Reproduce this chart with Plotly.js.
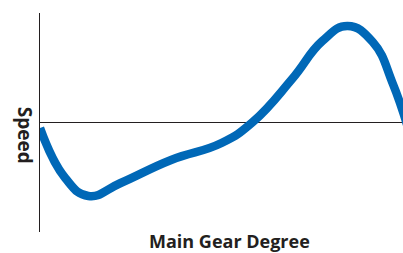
<!DOCTYPE html>
<html>
<head>
<meta charset="utf-8">
<script src="https://cdn.plot.ly/plotly-3.0.1.min.js"></script>
<style>html,body{margin:0;padding:0;background:#fff;}#chart{width:403px;height:253px;}</style>
</head>
<body>
<div id="chart"></div>
<script>
const degree = [0, 25, 48, 80, 130, 180, 211, 250, 280, 305, 330, 350, 367];
const speed = [-0.06, -0.56, -0.74, -0.61, -0.38, -0.21, 0.0, 0.43, 0.81, 0.96, 0.80, 0.38, -0.13];
const xTitle = "Main Gear Degree";
const yTitle = "Speed";

const trace = {
  x: degree, y: speed, type: 'scatter', mode: 'lines',
  line: {color: '#0068b7', width: 8.5, shape: 'spline', smoothing: 1.3},
  hoverinfo: 'skip'
};
const font = {family: 'Open Sans, Lato, sans-serif', size: 18, color: '#231f20'};
const layout = {
  width: 403, height: 253,
  margin: {l: 40, r: 0, t: 13, b: 21, pad: 0},
  paper_bgcolor: '#fff', plot_bgcolor: '#fff',
  showlegend: false,
  xaxis: {range: [0, 360], showgrid: false, zeroline: false, showline: false, showticklabels: false, ticks: '', fixedrange: true},
  yaxis: {range: [-1.10, 1.09], showgrid: false, zeroline: true, zerolinecolor: '#231f20', zerolinewidth: 1,
          showline: true, linecolor: '#231f20', linewidth: 1, showticklabels: false, ticks: '', fixedrange: true},
  annotations: [
    {text: '<b>' + xTitle + '</b>', xref: 'paper', yref: 'paper', x: 0.521, y: -0.043, xanchor: 'center', yanchor: 'middle',
     showarrow: false, font: font},
    {text: '<b>' + yTitle + '</b>', xref: 'paper', yref: 'paper', x: -0.05, y: 0.44, xanchor: 'center', yanchor: 'middle',
     xshift: 4, textangle: 90, showarrow: false, font: {family: font.family, size: 19, color: font.color}}
  ]
};
Plotly.newPlot('chart', [trace], layout, {staticPlot: true, displayModeBar: false});
</script>
</body>
</html>
